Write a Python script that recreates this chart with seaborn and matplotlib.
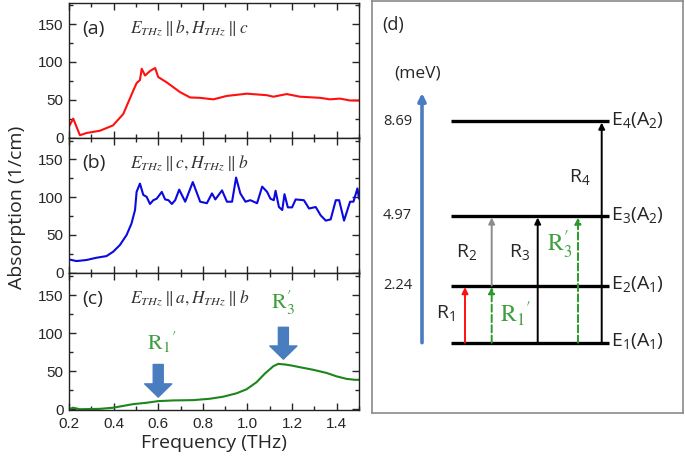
import matplotlib.pyplot as plt
import seaborn as sns
from matplotlib.ticker import MultipleLocator

# ---- panel (a): E_THz || b, H_THz || c ----
freq_a = [0.200, 0.219, 0.249, 0.279, 0.339, 0.397, 0.443, 0.488, 0.503, 0.518,
          0.526, 0.541, 0.563, 0.586, 0.600, 0.638, 0.698, 0.743, 0.787, 0.847,
          0.907, 0.997, 1.087, 1.116, 1.176, 1.236, 1.326, 1.370, 1.415, 1.460, 1.500]
abs_a = [14.6, 25, 3, 6, 9, 16, 31, 62, 72, 76,
         91, 82, 88, 92, 80, 73, 60, 53, 52.5, 50.5,
         55, 58, 56, 54, 57.5, 54, 52.5, 50.5, 51.5, 49, 49]

# ---- panel (b): E_THz || c, H_THz || b ----
freq_b = [0.200, 0.233, 0.278, 0.323, 0.368, 0.398, 0.428, 0.458, 0.480, 0.496,
          0.503, 0.518, 0.533, 0.548, 0.563, 0.578, 0.593, 0.616, 0.631, 0.646,
          0.661, 0.676, 0.694, 0.721, 0.755, 0.788, 0.818, 0.841, 0.856, 0.886,
          0.908, 0.931, 0.949, 0.968, 0.991, 1.013, 1.043, 1.066, 1.088, 1.103,
          1.118, 1.126, 1.141, 1.156, 1.166, 1.181, 1.200, 1.216, 1.253, 1.276,
          1.306, 1.328, 1.351, 1.373, 1.396, 1.411, 1.433, 1.460, 1.475, 1.493, 1.500]
abs_b = [17.6, 15.4, 16.8, 19.8, 22, 27.8, 36.6, 49.8, 65, 83,
         107, 118, 103, 100.5, 91, 96, 98, 107, 97, 96,
         91, 96, 110, 94, 120, 94, 92, 105, 97, 109,
         94, 94, 126, 105, 94, 96, 92, 114, 107, 98,
         96, 108.5, 87, 83, 104, 86.5, 86.5, 97, 96, 85,
         87, 76, 69, 70.6, 96, 96, 69, 94, 94, 111.6, 98]

# ---- panel (c): E_THz || a, H_THz || b ----
freq_c = [0.200, 0.218, 0.248, 0.338, 0.398, 0.487, 0.547, 0.600, 0.667, 0.757,
          0.831, 0.891, 0.951, 0.996, 1.041, 1.078, 1.116, 1.138, 1.168, 1.198,
          1.235, 1.295, 1.355, 1.400, 1.445, 1.482, 1.500]
abs_c = [0, 2, 0, 0.5, 2, 6.7, 8.5, 10.7, 11.6, 12,
         13.8, 16.5, 21, 26.3, 35.7, 47, 56.7, 59.8, 59, 57.6,
         55.4, 52, 47.8, 43.3, 40, 38.8, 38.8]

# ---- panel (d): energy levels (meV) and transitions ----
level_names = ["E$_1$(A$_1$)", "E$_2$(A$_1$)", "E$_3$(A$_2$)", "E$_4$(A$_2$)"]
level_energy = [0.0, 2.24, 4.97, 8.69]
level_ticks = ["", "2.24", "4.97", "8.69"]

trans_names = ["R$_1$", r"$\mathrm{R}_1{}'$", "R$_2$", "R$_3$",
               r"$\mathrm{R}_3^{\prime}$", "R$_4$"]
trans_lower = [0, 0, 1, 0, 0, 0]
trans_upper = [1, 1, 2, 2, 2, 3]


def style_axis(ax, show_x):
    ax.set_xlim(0.2, 1.5)
    ax.set_xticks([0.2, 0.4, 0.6, 0.8, 1.0, 1.2, 1.4])
    ax.xaxis.set_minor_locator(MultipleLocator(0.1))
    ax.set_yticks([0, 50, 100, 150])
    ax.yaxis.set_minor_locator(MultipleLocator(25))
    ax.tick_params(which="both", direction="in", top=True, right=True,
                   labelsize=11, width=1)
    ax.tick_params(which="major", length=5, pad=4)
    ax.tick_params(which="minor", length=3)
    ax.tick_params(axis="x", pad=5, labelbottom=show_x)
    for s in ax.spines.values():
        s.set_linewidth(1)
        s.set_color("#222222")
    ax.set_xlabel("")
    ax.set_ylabel("")


def main():
    sns.set_style("ticks")
    plt.rcParams["font.family"] = ["Liberation Sans", "DejaVu Sans"]
    plt.rcParams["mathtext.fontset"] = "custom"
    plt.rcParams["mathtext.rm"] = "Open Sans"
    plt.rcParams["mathtext.it"] = "Open Sans:italic"
    plt.rcParams["mathtext.bf"] = "Open Sans:bold"

    fig = plt.figure(figsize=(6.85, 4.63), dpi=100)
    L, W = 69 / 685, 290 / 685
    ax_a = fig.add_axes([L, 0.703, W, 0.2905])
    ax_b = fig.add_axes([L, 0.411, W, 0.292])
    ax_c = fig.add_axes([L, 0.1145, W, 0.2965])

    sns.lineplot(x=freq_a, y=abs_a, ax=ax_a, color="#ff1010", lw=1.5, estimator=None)
    sns.lineplot(x=freq_b, y=abs_b, ax=ax_b, color="#0a0ae0", lw=1.5, estimator=None)
    sns.lineplot(x=freq_c, y=abs_c, ax=ax_c, color="#1c851c", lw=1.5, estimator=None)

    ax_a.set_ylim(0, 178)
    ax_b.set_ylim(0, 179)
    ax_c.set_ylim(-1, 180)
    style_axis(ax_a, False)
    style_axis(ax_b, False)
    style_axis(ax_c, True)

    pol = [r"$E_{THz}\parallel b, H_{THz}\parallel c$",
           r"$E_{THz}\parallel c, H_{THz}\parallel b$",
           r"$E_{THz}\parallel a, H_{THz}\parallel b$"]
    for ax, tag, p in zip([ax_a, ax_b, ax_c], ["(a)", "(b)", "(c)"], pol):
        ax.text(0.045, 0.81, tag, transform=ax.transAxes, fontsize=14,
                family="Open Sans", va="center", ha="left")
        ax.text(0.21, 0.81, p, transform=ax.transAxes, fontsize=12.5,
                math_fontfamily="stix", va="center", ha="left", color="#333333")

    # markers of the R1' and R3' features
    green_txt = "#3f9f3f"
    arrow_blue = "#4a7cc0"
    for fx, y0, y1, lab, ly in [(0.6, 59, 16, trans_names[1], 88),
                                (1.161, 108, 66, trans_names[4], 140)]:
        ax_c.annotate("", xy=(fx, y1), xytext=(fx, y0),
                      arrowprops=dict(arrowstyle="simple,head_length=0.95,head_width=1.95,tail_width=0.72",
                                      mutation_scale=10, color=arrow_blue,
                                      shrinkA=0, shrinkB=0))
        ax_c.text(fx + (0.017 if fx < 1 else 0.0), ly, lab, fontsize=16,
                  math_fontfamily="stix", color=green_txt, ha="center", va="center")

    ax_c.set_xlabel("Frequency (THz)", fontsize=14, family="Open Sans", labelpad=2)
    fig.text(0.025, 0.553, "Absorption (1/cm)", rotation=90, fontsize=14,
             family="Open Sans", ha="center", va="center")

    # ---- panel (d) ----
    ax_d = fig.add_axes([372 / 685, 1 - 413 / 463, 311 / 685, 412 / 463])
    ax_d.set_xlim(372, 683)
    ax_d.set_ylim(-2.757, 13.40)
    ax_d.set_xticks([])
    ax_d.set_yticks([])
    for s in ax_d.spines.values():
        s.set_color("#8a8a8a")
        s.set_linewidth(1.2)

    ax_d.hlines(level_energy, 451, 609, color="black", lw=2.4)
    for e, name, tick in zip(level_energy, level_names, level_ticks):
        ax_d.text(611, e + 0.05, name, fontsize=14, family="Open Sans",
                  ha="left", va="center")
        ax_d.text(412, e, tick, fontsize=10.5, family="Open Sans",
                  ha="right", va="center")

    ax_d.annotate("", xy=(422, 9.79), xytext=(422, 0),
                  arrowprops=dict(arrowstyle="-|>", color=arrow_blue, lw=2.6,
                                  mutation_scale=11, shrinkA=0, shrinkB=0))
    ax_d.text(418, 10.57, "(meV)", fontsize=12.5, family="Open Sans",
              ha="center", va="center")
    ax_d.text(382, 12.46, "(d)", fontsize=13, family="Open Sans",
              ha="left", va="center")

    trans_x = [465, 491.7, 491.7, 537.7, 578, 601.7]
    trans_col = ["#ff1010", "#2a9a2a", "#8c8c8c", "black", "#2a9a2a", "black"]
    trans_ls = ["-", "--", "-", "-", "--", "-"]
    lab_pos = [(446, 1.16), (516, 1.16), (467, 3.57), (520, 3.55), (560, 3.83), (580, 6.51)]
    for i, name in enumerate(trans_names):
        lo = level_energy[trans_lower[i]]
        hi = level_energy[trans_upper[i]]
        ax_d.annotate("", xy=(trans_x[i], hi - 0.06), xytext=(trans_x[i], lo),
                      arrowprops=dict(arrowstyle="-|>", color=trans_col[i], lw=1.4,
                                      ls=trans_ls[i], mutation_scale=9,
                                      shrinkA=0, shrinkB=0))
        green = trans_col[i] == "#2a9a2a"
        if green:
            ax_d.text(*lab_pos[i], name, fontsize=17, math_fontfamily="stix",
                      color=green_txt, ha="center", va="center")
        else:
            ax_d.text(*lab_pos[i], name, fontsize=14, family="Open Sans",
                      ha="center", va="center")

    fig.savefig("out.png", dpi=100)
    plt.close(fig)


if __name__ == "__main__":
    main()
